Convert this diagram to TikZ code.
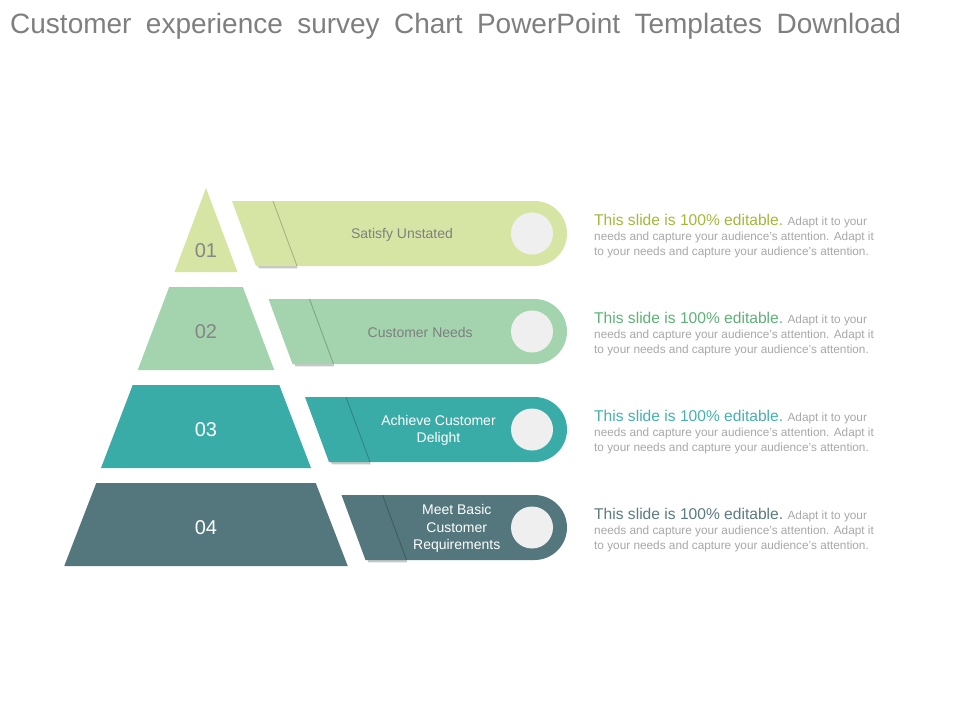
\documentclass[tikz,border=0pt]{standalone}
\usepackage{fontspec}
\setmainfont{Liberation Sans}
\definecolor{rowA}{HTML}{D7E5A4}
\definecolor{rowB}{HTML}{A3D4AE}
\definecolor{rowC}{HTML}{3AACA7}
\definecolor{rowD}{HTML}{53777C}
\definecolor{headA}{HTML}{A5B83C}
\definecolor{headB}{HTML}{5DB277}
\definecolor{headC}{HTML}{45B2AD}
\definecolor{headD}{HTML}{5A7B80}
\definecolor{bodygray}{HTML}{A8A8A8}
\definecolor{titlegray}{HTML}{7F7F7F}
\definecolor{numgray}{HTML}{858585}
\definecolor{knob}{HTML}{EFEFEF}
\tikzset{
  numtext/.style={inner sep=0pt, font=\fontsize{20}{24}\selectfont},
  bandtext/.style={inner sep=0pt, align=center, font=\fontsize{14}{17.5}\selectfont},
  desctext/.style={anchor=base west, inner sep=0pt, text=bodygray, font=\fontsize{11.8}{14}\selectfont},
}
\begin{document}
\begin{tikzpicture}[x=1pt,y=-1pt]
\useasboundingbox (0,0) rectangle (960,720);
\fill[white] (0,0) rectangle (960,720);
\node[anchor=base west, inner sep=0pt, text=titlegray, font=\fontsize{28}{32}\selectfont] (title) at (10,33.5) {\spaceskip=14.4pt\relax Customer experience survey Chart PowerPoint Templates Download};

\foreach \k/\fc/\nc/\lab/\tc/\hc/\nx in {
  0/rowA/numgray/{Satisfy Unstated}/titlegray/headA/251,
  1/rowB/numgray/{Customer Needs}/titlegray/headB/331.5,
  2/rowC/white/{Achieve Customer\\Delight}/white/headC/429.5,
  3/rowD/white/{Meet Basic\\Customer\\Requirements}/white/headD/527.5}{
  \pgfmathsetmacro\yt{201+98*\k}
  \pgfmathsetmacro\yb{\yt+65}
  \pgfmathsetmacro\yc{\yt+32.5}
  \pgfmathsetmacro\xl{232+36.5*\k}
  \pgfmathsetmacro\pt{ifthenelse(\k==0,188,189+98*\k)}
  \pgfmathsetmacro\pb{272+98*\k}
  \pgfmathsetmacro\hwt{0.372*(\pt-188)}
  \pgfmathsetmacro\hwb{0.375*(\pb-188)}
  \pgfmathsetmacro\tx{(\xl+53+511)/2+4}
  % pyramid layer
  \fill[\fc] (206-\hwt,\pt) -- (206+\hwt,\pt) -- (206+\hwb,\pb) -- (206-\hwb,\pb) -- cycle;
  \node[numtext, text=\nc] (num\k) at (206,\nx) {0\the\numexpr\k+1\relax};
  % band
  \fill[black, opacity=0.22] (\xl+26,\yb) -- (\xl+65,\yb) -- (\xl+65.6,\yb+2.4) -- (\xl+27,\yb+2.4) -- cycle;
  \fill[\fc] (\xl,\yt) -- (534.5,\yt) -- (534.5,\yb) -- (\xl+24,\yb) -- cycle;
  \fill[\fc] (534.5,\yc) circle[radius=32.5];
  \draw[\fc!60!black, opacity=0.55, line width=0.9pt] (\xl+41,\yt) -- (\xl+65,\yb);
  \fill[knob] (532,\yc) circle[radius=21];
  \node[bandtext, text=\tc] (lab\k) at (\tx,\yc+1) {\lab};
  % description
  \node[desctext] (descA\k) at (594,225.5+98*\k) {{\color{\hc}\fontsize{15.6}{18}\selectfont This slide is 100\% editable.} Adapt it to your};
  \node[desctext] (descB\k) at (594,240.5+98*\k) {needs and capture your audience’s attention. Adapt it};
  \node[desctext] (descC\k) at (594,255.5+98*\k) {to your needs and capture your audience’s attention.};
}
\end{tikzpicture}
\end{document}
